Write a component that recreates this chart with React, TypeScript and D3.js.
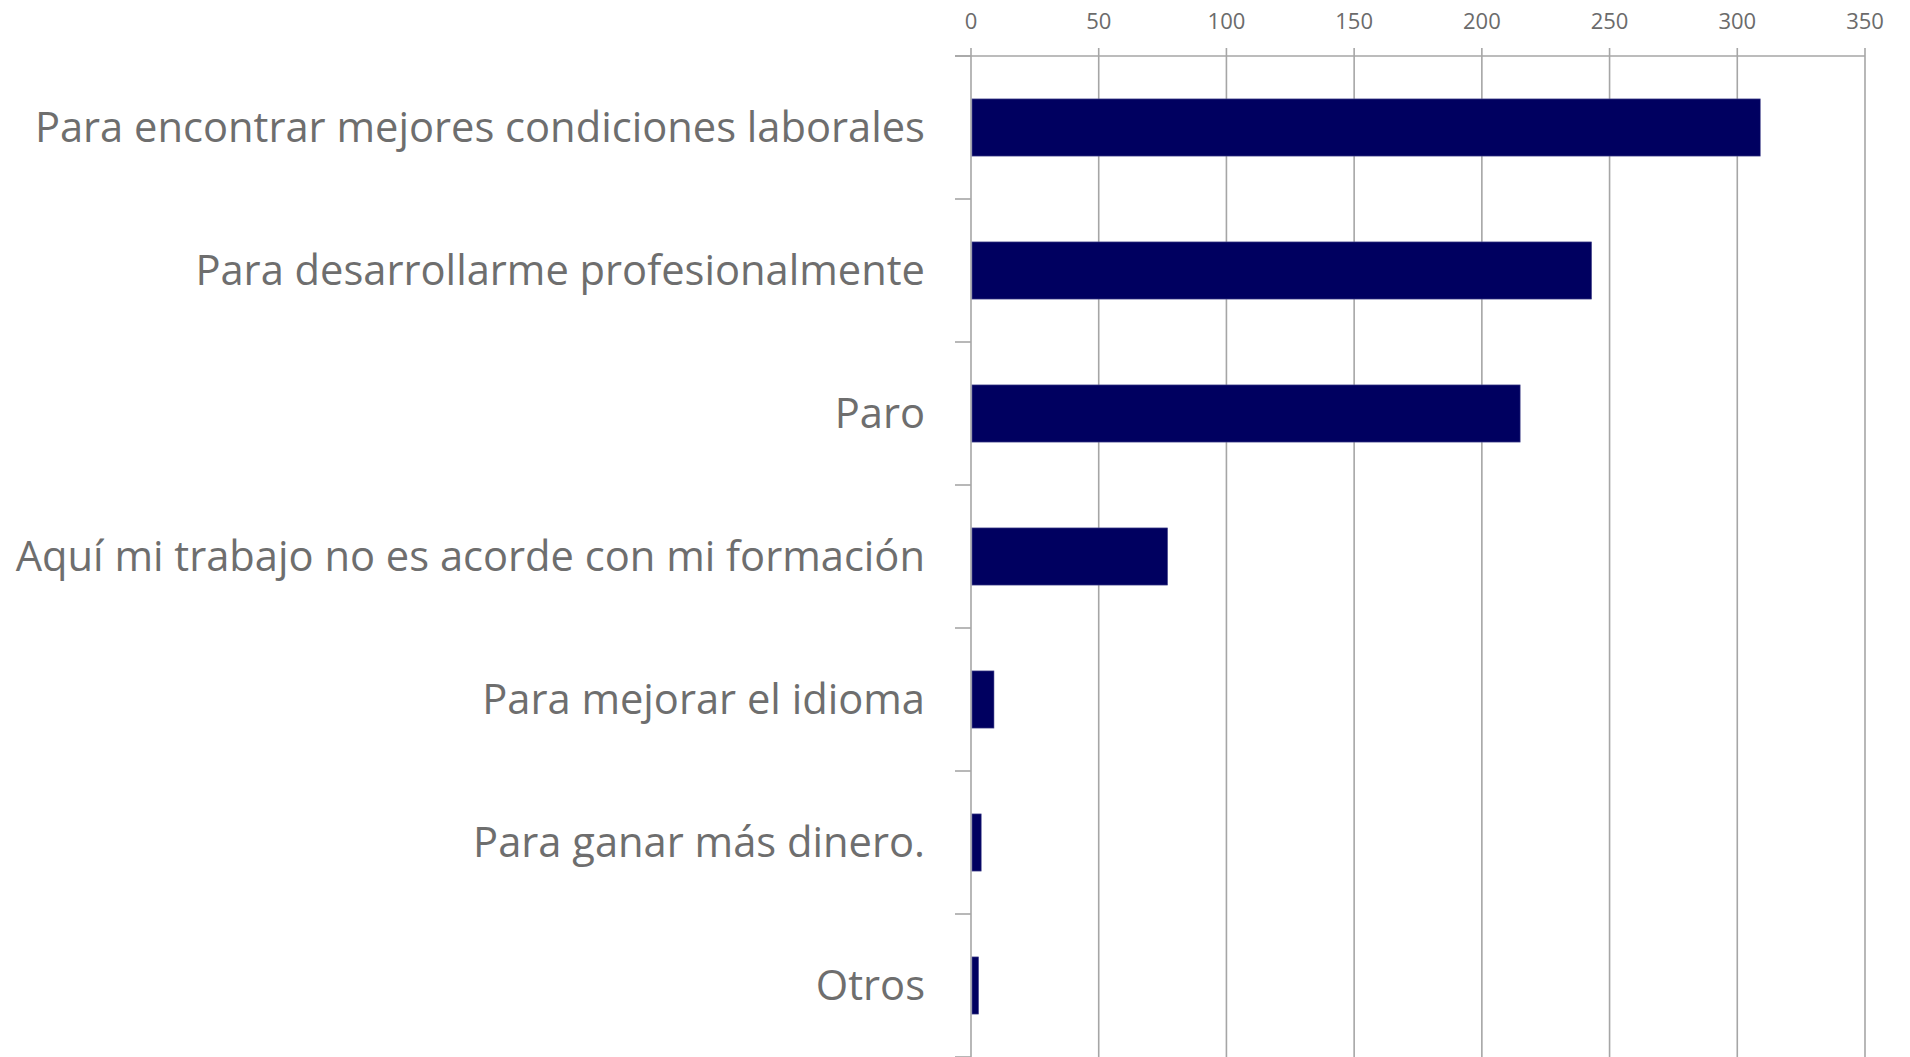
import React from "react";
import * as d3 from "d3";

const categories = [
  "Para encontrar mejores condiciones laborales",
  "Para desarrollarme profesionalmente",
  "Paro",
  "Aquí mi trabajo no es acorde con mi formación",
  "Para mejorar el idioma",
  "Para ganar más dinero.",
  "Otros",
];
const values = [309, 243, 215, 77, 9, 4, 3];
const xTicks = [0, 50, 100, 150, 200, 250, 300, 350];

const W = 1910;
const H = 1057;
const X0 = 971;
const X1 = 1865;
const Y0 = 56;
const Y1 = 1057;

export default function App() {
  const x = d3.scaleLinear().domain([0, 350]).range([X0, X1]);
  const y = d3
    .scaleBand<string>()
    .domain(categories)
    .range([Y0, Y1])
    .paddingInner(0.6)
    .paddingOuter(0.3);
  const step = y.step();
  const grid = "#a6a6a6";
  const font = "'Open Sans', 'Noto Sans', sans-serif";
  const boundaries = d3.range(categories.length + 1).map((i) => Y0 + i * step);

  return (
    <svg
      width={W}
      height={H}
      style={{ position: "absolute", left: 0, top: 0, background: "#fff" }}
    >
      {xTicks.map((t) => (
        <g key={t}>
          <line x1={x(t)} x2={x(t)} y1={48} y2={H} stroke={grid} strokeWidth={1.6} />
          <text
            x={x(t)}
            y={29}
            textAnchor="middle"
            fontFamily={font}
            fontSize={22}
            fill="#6b6b6b"
          >
            {t}
          </text>
        </g>
      ))}
      <line x1={955} x2={X1} y1={Y0} y2={Y0} stroke={grid} strokeWidth={1.6} />
      {boundaries.map((b, i) => (
        <line key={i} x1={955} x2={X0} y1={b} y2={b} stroke={grid} strokeWidth={1.6} />
      ))}
      {categories.map((c, i) => (
        <rect
          key={c}
          x={x(0) + 1}
          y={y(c)}
          width={x(values[i]) - x(0) - 1}
          height={y.bandwidth()}
          fill="#000060"
          stroke="#5a5a9a"
          strokeWidth={0.6}
        />
      ))}
      {categories.map((c) => {
        const cy = (y(c) as number) + y.bandwidth() / 2;
        return (
          <text
            key={c}
            x={925}
            y={cy + 14.5}
            textAnchor="end"
            fontFamily={font}
            fontSize={42}
            fill="#6e6e6e"
            transform="translate(925,0) scale(0.992,1) translate(-925,0)"
          >
            {c}
          </text>
        );
      })}
    </svg>
  );
}
